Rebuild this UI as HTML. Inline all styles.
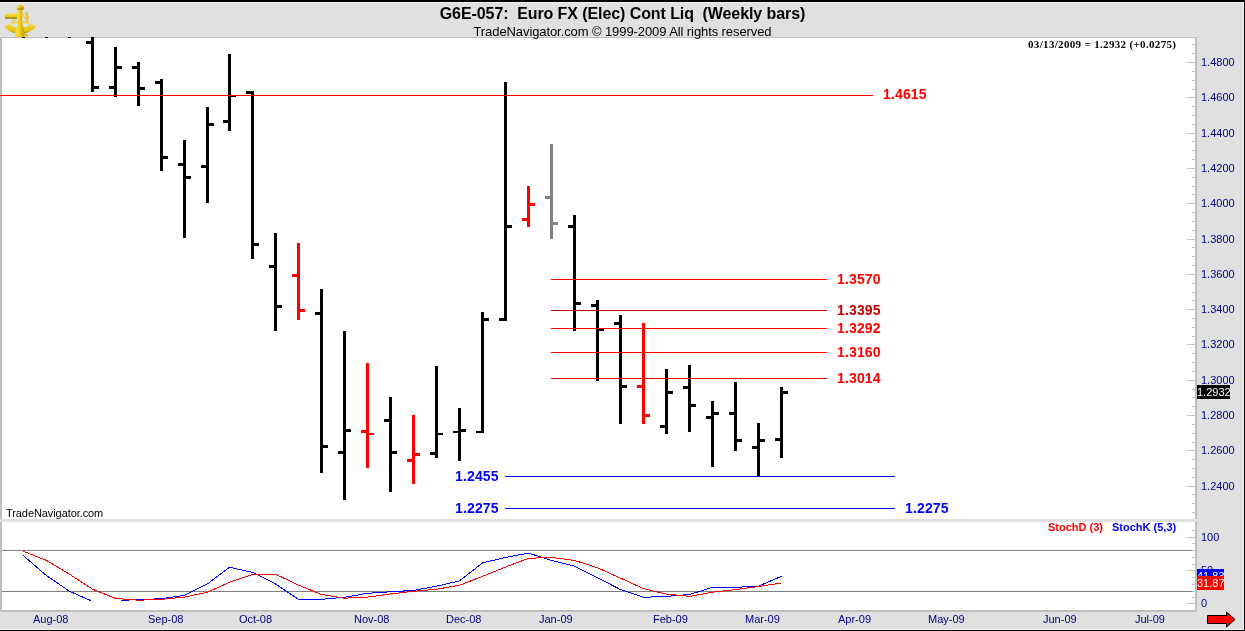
<!DOCTYPE html>
<html><head><meta charset="utf-8"><title>G6E-057 Euro FX Weekly</title>
<style>
html,body{margin:0;padding:0}
body{width:1245px;height:631px;overflow:hidden;background:#e0e0e0;font-family:"Liberation Sans",sans-serif;position:relative}
#w{position:absolute;left:0;top:0;width:1245px;height:631px;overflow:hidden;background:#e0e0e0}
i{position:absolute;display:block}
.pl{position:absolute;font-size:14px;line-height:16px;font-weight:bold;white-space:nowrap;letter-spacing:0.15px}
.al{position:absolute;font-size:11px;line-height:13px;color:#000080;white-space:nowrap}
.st{position:absolute;left:0;top:0}
.t1,.t2,.dt,.al,.pl,.bx{will-change:transform}
.t1{position:absolute;left:0;width:1245px;text-align:center;top:4px;font-size:16px;line-height:19px;letter-spacing:-0.085px;font-weight:bold;color:#000;white-space:pre}
.t2{position:absolute;left:0;width:1245px;text-align:center;top:24px;font-size:13px;line-height:15px;color:#000;white-space:pre;letter-spacing:-0.09px}
.dt{position:absolute;font-family:"Liberation Serif",serif;font-weight:bold;font-size:11px;letter-spacing:0.33px;line-height:13px;top:38px;left:1028px;color:#000;white-space:nowrap}
.bx{position:absolute;color:#fff;font-size:11px;line-height:14px;height:14px;white-space:nowrap;overflow:hidden}
</style></head><body><div id="w">
<!-- frame -->
<i style="left:0;top:0;width:1245px;height:2px;background:#000"></i>
<i style="left:0;top:2px;width:1243px;height:1px;background:#f0f0f0"></i>
<!-- chart areas -->
<i style="left:0;top:37px;width:1197px;height:575px;background:#bebebe"></i>
<i style="left:2px;top:38px;width:1193px;height:481px;background:#fff"></i>
<i style="left:0px;top:519px;width:1197px;height:3px;background:#e0e0e0"></i>
<i style="left:2px;top:522px;width:1193px;height:88px;background:#fff"></i>
<!-- stoch ref lines -->
<i style="left:2px;top:550px;width:1190px;height:1px;background:#808080"></i>
<i style="left:2px;top:591px;width:1190px;height:1px;background:#808080"></i>
<i style="left:1192px;top:44px;width:3px;height:1px;background:#c4c4c4"></i>
<i style="left:1192px;top:53px;width:3px;height:1px;background:#c4c4c4"></i>
<i style="left:1187px;top:62px;width:8px;height:1px;background:#c4c4c4"></i>
<span class="al" style="left:1201px;top:56px">1.4800</span>
<i style="left:1192px;top:71px;width:3px;height:1px;background:#c4c4c4"></i>
<i style="left:1192px;top:80px;width:3px;height:1px;background:#c4c4c4"></i>
<i style="left:1192px;top:89px;width:3px;height:1px;background:#c4c4c4"></i>
<i style="left:1187px;top:97px;width:8px;height:1px;background:#c4c4c4"></i>
<span class="al" style="left:1201px;top:91px">1.4600</span>
<i style="left:1192px;top:106px;width:3px;height:1px;background:#c4c4c4"></i>
<i style="left:1192px;top:115px;width:3px;height:1px;background:#c4c4c4"></i>
<i style="left:1192px;top:124px;width:3px;height:1px;background:#c4c4c4"></i>
<i style="left:1187px;top:133px;width:8px;height:1px;background:#c4c4c4"></i>
<span class="al" style="left:1201px;top:127px">1.4400</span>
<i style="left:1192px;top:141px;width:3px;height:1px;background:#c4c4c4"></i>
<i style="left:1192px;top:150px;width:3px;height:1px;background:#c4c4c4"></i>
<i style="left:1192px;top:159px;width:3px;height:1px;background:#c4c4c4"></i>
<i style="left:1187px;top:168px;width:8px;height:1px;background:#c4c4c4"></i>
<span class="al" style="left:1201px;top:162px">1.4200</span>
<i style="left:1192px;top:177px;width:3px;height:1px;background:#c4c4c4"></i>
<i style="left:1192px;top:186px;width:3px;height:1px;background:#c4c4c4"></i>
<i style="left:1192px;top:194px;width:3px;height:1px;background:#c4c4c4"></i>
<i style="left:1187px;top:203px;width:8px;height:1px;background:#c4c4c4"></i>
<span class="al" style="left:1201px;top:197px">1.4000</span>
<i style="left:1192px;top:212px;width:3px;height:1px;background:#c4c4c4"></i>
<i style="left:1192px;top:221px;width:3px;height:1px;background:#c4c4c4"></i>
<i style="left:1192px;top:230px;width:3px;height:1px;background:#c4c4c4"></i>
<i style="left:1187px;top:239px;width:8px;height:1px;background:#c4c4c4"></i>
<span class="al" style="left:1201px;top:233px">1.3800</span>
<i style="left:1192px;top:247px;width:3px;height:1px;background:#c4c4c4"></i>
<i style="left:1192px;top:256px;width:3px;height:1px;background:#c4c4c4"></i>
<i style="left:1192px;top:265px;width:3px;height:1px;background:#c4c4c4"></i>
<i style="left:1187px;top:274px;width:8px;height:1px;background:#c4c4c4"></i>
<span class="al" style="left:1201px;top:268px">1.3600</span>
<i style="left:1192px;top:283px;width:3px;height:1px;background:#c4c4c4"></i>
<i style="left:1192px;top:292px;width:3px;height:1px;background:#c4c4c4"></i>
<i style="left:1192px;top:300px;width:3px;height:1px;background:#c4c4c4"></i>
<i style="left:1187px;top:309px;width:8px;height:1px;background:#c4c4c4"></i>
<span class="al" style="left:1201px;top:303px">1.3400</span>
<i style="left:1192px;top:318px;width:3px;height:1px;background:#c4c4c4"></i>
<i style="left:1192px;top:327px;width:3px;height:1px;background:#c4c4c4"></i>
<i style="left:1192px;top:336px;width:3px;height:1px;background:#c4c4c4"></i>
<i style="left:1187px;top:344px;width:8px;height:1px;background:#c4c4c4"></i>
<span class="al" style="left:1201px;top:338px">1.3200</span>
<i style="left:1192px;top:353px;width:3px;height:1px;background:#c4c4c4"></i>
<i style="left:1192px;top:362px;width:3px;height:1px;background:#c4c4c4"></i>
<i style="left:1192px;top:371px;width:3px;height:1px;background:#c4c4c4"></i>
<i style="left:1187px;top:380px;width:8px;height:1px;background:#c4c4c4"></i>
<span class="al" style="left:1201px;top:374px">1.3000</span>
<i style="left:1192px;top:389px;width:3px;height:1px;background:#c4c4c4"></i>
<i style="left:1192px;top:397px;width:3px;height:1px;background:#c4c4c4"></i>
<i style="left:1192px;top:406px;width:3px;height:1px;background:#c4c4c4"></i>
<i style="left:1187px;top:415px;width:8px;height:1px;background:#c4c4c4"></i>
<span class="al" style="left:1201px;top:409px">1.2800</span>
<i style="left:1192px;top:424px;width:3px;height:1px;background:#c4c4c4"></i>
<i style="left:1192px;top:433px;width:3px;height:1px;background:#c4c4c4"></i>
<i style="left:1192px;top:442px;width:3px;height:1px;background:#c4c4c4"></i>
<i style="left:1187px;top:450px;width:8px;height:1px;background:#c4c4c4"></i>
<span class="al" style="left:1201px;top:444px">1.2600</span>
<i style="left:1192px;top:459px;width:3px;height:1px;background:#c4c4c4"></i>
<i style="left:1192px;top:468px;width:3px;height:1px;background:#c4c4c4"></i>
<i style="left:1192px;top:477px;width:3px;height:1px;background:#c4c4c4"></i>
<i style="left:1187px;top:486px;width:8px;height:1px;background:#c4c4c4"></i>
<span class="al" style="left:1201px;top:480px">1.2400</span>
<i style="left:1192px;top:494px;width:3px;height:1px;background:#c4c4c4"></i>
<i style="left:1192px;top:503px;width:3px;height:1px;background:#c4c4c4"></i>
<i style="left:1192px;top:512px;width:3px;height:1px;background:#c4c4c4"></i>
<i style="left:1187px;top:603px;width:8px;height:1px;background:#c4c4c4"></i>
<span class="al" style="left:1201px;top:597px">0</span>
<i style="left:1192px;top:597px;width:3px;height:1px;background:#c4c4c4"></i>
<i style="left:1192px;top:591px;width:3px;height:1px;background:#c4c4c4"></i>
<i style="left:1192px;top:584px;width:3px;height:1px;background:#c4c4c4"></i>
<i style="left:1192px;top:577px;width:3px;height:1px;background:#c4c4c4"></i>
<i style="left:1187px;top:570px;width:8px;height:1px;background:#c4c4c4"></i>
<span class="al" style="left:1201px;top:564px">50</span>
<i style="left:1192px;top:564px;width:3px;height:1px;background:#c4c4c4"></i>
<i style="left:1192px;top:557px;width:3px;height:1px;background:#c4c4c4"></i>
<i style="left:1192px;top:550px;width:3px;height:1px;background:#c4c4c4"></i>
<i style="left:1192px;top:543px;width:3px;height:1px;background:#c4c4c4"></i>
<i style="left:1187px;top:537px;width:8px;height:1px;background:#c4c4c4"></i>
<span class="al" style="left:1201px;top:531px">100</span>
<i style="left:1192px;top:530px;width:3px;height:1px;background:#c4c4c4"></i>
<i style="left:91px;top:37px;width:3px;height:55px;background:#000"></i>
<i style="left:86px;top:41px;width:5px;height:3px;background:#000"></i>
<i style="left:94px;top:86px;width:5px;height:3px;background:#000"></i>
<i style="left:114px;top:47px;width:3px;height:50px;background:#000"></i>
<i style="left:109px;top:86px;width:5px;height:3px;background:#000"></i>
<i style="left:117px;top:66px;width:5px;height:3px;background:#000"></i>
<i style="left:137px;top:62px;width:3px;height:44px;background:#000"></i>
<i style="left:132px;top:66px;width:5px;height:3px;background:#000"></i>
<i style="left:140px;top:87px;width:5px;height:3px;background:#000"></i>
<i style="left:160px;top:79px;width:3px;height:92px;background:#000"></i>
<i style="left:155px;top:81px;width:5px;height:3px;background:#000"></i>
<i style="left:163px;top:156px;width:5px;height:3px;background:#000"></i>
<i style="left:183px;top:140px;width:3px;height:98px;background:#000"></i>
<i style="left:178px;top:163px;width:5px;height:3px;background:#000"></i>
<i style="left:186px;top:176px;width:5px;height:3px;background:#000"></i>
<i style="left:206px;top:107px;width:3px;height:96px;background:#000"></i>
<i style="left:201px;top:165px;width:5px;height:3px;background:#000"></i>
<i style="left:209px;top:123px;width:5px;height:3px;background:#000"></i>
<i style="left:228px;top:54px;width:3px;height:77px;background:#000"></i>
<i style="left:223px;top:120px;width:5px;height:3px;background:#000"></i>
<i style="left:231px;top:95px;width:5px;height:2px;background:#000"></i>
<i style="left:251px;top:91px;width:3px;height:168px;background:#000"></i>
<i style="left:246px;top:91px;width:5px;height:3px;background:#000"></i>
<i style="left:254px;top:243px;width:5px;height:3px;background:#000"></i>
<i style="left:274px;top:233px;width:3px;height:98px;background:#000"></i>
<i style="left:269px;top:265px;width:5px;height:3px;background:#000"></i>
<i style="left:277px;top:305px;width:5px;height:3px;background:#000"></i>
<i style="left:297px;top:243px;width:3px;height:77px;background:#f00"></i>
<i style="left:292px;top:274px;width:5px;height:3px;background:#f00"></i>
<i style="left:300px;top:309px;width:5px;height:3px;background:#f00"></i>
<i style="left:320px;top:289px;width:3px;height:184px;background:#000"></i>
<i style="left:315px;top:312px;width:5px;height:3px;background:#000"></i>
<i style="left:323px;top:445px;width:5px;height:3px;background:#000"></i>
<i style="left:343px;top:331px;width:3px;height:169px;background:#000"></i>
<i style="left:338px;top:451px;width:5px;height:3px;background:#000"></i>
<i style="left:346px;top:429px;width:5px;height:3px;background:#000"></i>
<i style="left:366px;top:363px;width:3px;height:105px;background:#f00"></i>
<i style="left:361px;top:430px;width:5px;height:3px;background:#f00"></i>
<i style="left:369px;top:433px;width:5px;height:2px;background:#f00"></i>
<i style="left:389px;top:397px;width:3px;height:95px;background:#000"></i>
<i style="left:384px;top:419px;width:5px;height:3px;background:#000"></i>
<i style="left:392px;top:451px;width:5px;height:3px;background:#000"></i>
<i style="left:412px;top:415px;width:3px;height:69px;background:#f00"></i>
<i style="left:407px;top:459px;width:5px;height:3px;background:#f00"></i>
<i style="left:415px;top:453px;width:5px;height:3px;background:#f00"></i>
<i style="left:435px;top:366px;width:3px;height:92px;background:#000"></i>
<i style="left:430px;top:452px;width:5px;height:3px;background:#000"></i>
<i style="left:438px;top:433px;width:5px;height:2px;background:#000"></i>
<i style="left:458px;top:408px;width:3px;height:53px;background:#000"></i>
<i style="left:453px;top:431px;width:5px;height:2px;background:#000"></i>
<i style="left:461px;top:429px;width:5px;height:3px;background:#000"></i>
<i style="left:481px;top:312px;width:3px;height:121px;background:#000"></i>
<i style="left:476px;top:431px;width:5px;height:2px;background:#000"></i>
<i style="left:484px;top:318px;width:5px;height:3px;background:#000"></i>
<i style="left:504px;top:82px;width:3px;height:239px;background:#000"></i>
<i style="left:499px;top:318px;width:5px;height:3px;background:#000"></i>
<i style="left:507px;top:225px;width:5px;height:3px;background:#000"></i>
<i style="left:527px;top:186px;width:3px;height:41px;background:#f00"></i>
<i style="left:522px;top:218px;width:5px;height:3px;background:#f00"></i>
<i style="left:530px;top:203px;width:5px;height:3px;background:#f00"></i>
<i style="left:550px;top:144px;width:3px;height:95px;background:#808080"></i>
<i style="left:545px;top:196px;width:5px;height:3px;background:#808080"></i>
<i style="left:553px;top:222px;width:5px;height:3px;background:#808080"></i>
<i style="left:573px;top:215px;width:3px;height:116px;background:#000"></i>
<i style="left:568px;top:225px;width:5px;height:3px;background:#000"></i>
<i style="left:576px;top:302px;width:5px;height:3px;background:#000"></i>
<i style="left:596px;top:300px;width:3px;height:81px;background:#000"></i>
<i style="left:591px;top:304px;width:5px;height:3px;background:#000"></i>
<i style="left:599px;top:328px;width:5px;height:3px;background:#000"></i>
<i style="left:619px;top:315px;width:3px;height:109px;background:#000"></i>
<i style="left:614px;top:322px;width:5px;height:3px;background:#000"></i>
<i style="left:622px;top:385px;width:5px;height:3px;background:#000"></i>
<i style="left:642px;top:323px;width:3px;height:101px;background:#f00"></i>
<i style="left:637px;top:385px;width:5px;height:3px;background:#f00"></i>
<i style="left:645px;top:414px;width:5px;height:3px;background:#f00"></i>
<i style="left:665px;top:369px;width:3px;height:65px;background:#000"></i>
<i style="left:660px;top:425px;width:5px;height:3px;background:#000"></i>
<i style="left:668px;top:391px;width:5px;height:3px;background:#000"></i>
<i style="left:688px;top:365px;width:3px;height:67px;background:#000"></i>
<i style="left:683px;top:386px;width:5px;height:3px;background:#000"></i>
<i style="left:691px;top:404px;width:5px;height:3px;background:#000"></i>
<i style="left:711px;top:401px;width:3px;height:66px;background:#000"></i>
<i style="left:706px;top:416px;width:5px;height:3px;background:#000"></i>
<i style="left:714px;top:412px;width:5px;height:3px;background:#000"></i>
<i style="left:734px;top:382px;width:3px;height:69px;background:#000"></i>
<i style="left:729px;top:412px;width:5px;height:3px;background:#000"></i>
<i style="left:737px;top:439px;width:5px;height:3px;background:#000"></i>
<i style="left:757px;top:423px;width:3px;height:53px;background:#000"></i>
<i style="left:752px;top:446px;width:5px;height:3px;background:#000"></i>
<i style="left:760px;top:439px;width:5px;height:3px;background:#000"></i>
<i style="left:780px;top:387px;width:3px;height:71px;background:#000"></i>
<i style="left:775px;top:438px;width:5px;height:3px;background:#000"></i>
<i style="left:783px;top:391px;width:5px;height:3px;background:#000"></i>
<i style="left:22px;top:37px;width:3px;height:1px;background:#000"></i>
<i style="left:45px;top:37px;width:3px;height:1px;background:#000"></i>
<i style="left:68px;top:37px;width:3px;height:1px;background:#000"></i>
<i style="left:0px;top:95px;width:873px;height:1px;background:#f00"></i>
<i style="left:551px;top:279px;width:276px;height:1px;background:#f00"></i>
<i style="left:551px;top:310px;width:276px;height:1px;background:#c00000"></i>
<i style="left:551px;top:328px;width:276px;height:1px;background:#f00"></i>
<i style="left:551px;top:352px;width:276px;height:1px;background:#f00"></i>
<i style="left:551px;top:378px;width:276px;height:1px;background:#f00"></i>
<i style="left:505px;top:476px;width:390px;height:1px;background:#00f"></i>
<i style="left:505px;top:508px;width:390px;height:1px;background:#00f"></i>
<b class="pl" style="left:883px;top:85.5px;color:#f00">1.4615</b>
<b class="pl" style="left:837px;top:271px;color:#f00">1.3570</b>
<b class="pl" style="left:837px;top:302px;color:#c00000">1.3395</b>
<b class="pl" style="left:837px;top:320px;color:#f00">1.3292</b>
<b class="pl" style="left:837px;top:344px;color:#f00">1.3160</b>
<b class="pl" style="left:837px;top:370px;color:#f00">1.3014</b>
<b class="pl" style="left:455px;top:468px;color:#00f">1.2455</b>
<b class="pl" style="left:455px;top:500px;color:#00f">1.2275</b>
<b class="pl" style="left:905px;top:500px;color:#00f">1.2275</b>
<svg class="st" width="1245" height="631" viewBox="0 0 1245 631" shape-rendering="crispEdges">
<polyline points="23,555.3 46.5,575.6 69.5,591.3 91,600.7" fill="none" stroke="#00f" stroke-width="1"/>
<polyline points="121,600.2 138.5,599.8 161.5,598.6 184.5,595.4 207.5,583.9 229.5,567.3 252.5,572.4 275.5,583.9 298.5,599.3 321.5,599.3 344.5,597.3 367.5,593.3 390.5,591.8 413.5,590.4 436.5,586.2 459.5,580.9 482.5,562.9 505.5,557.4 528.5,553.1 551.5,560.4 574.5,566.2 597.5,577.7 620.5,589.6 643.5,597.3 666.5,596.4 689.5,594.5 712.5,587.3 735.5,587.3 758.5,586.2 781.5,576.3" fill="none" stroke="#00f" stroke-width="1"/>
<polyline points="23,551.2 46.5,560.4 69.5,574.2 92.5,589.2 115.5,598.4 138.5,600.2 161.5,599.4 184.5,597.1 207.5,592.2 229.5,582.3 252.5,574.5 275.5,574.2 298.5,585.1 321.5,594.5 344.5,598.2 367.5,597.1 390.5,594 413.5,591.3 436.5,589.2 459.5,585.3 482.5,576.3 505.5,567.1 528.5,558.3 551.5,557.4 574.5,560.4 597.5,567.8 620.5,578.1 643.5,588.7 666.5,594.1 689.5,596.4 712.5,592.2 735.5,589.6 758.5,586.5 781.5,583.0" fill="none" stroke="#f00" stroke-width="1"/>
</svg>
<div class="t1">G6E-057:  Euro FX (Elec) Cont Liq  (Weekly bars)</div>
<div class="t2">TradeNavigator.com © 1999-2009 All rights reserved</div>
<div class="dt">03/13/2009 = 1.2932 (+0.0275)</div>
<span class="al" style="left:6px;top:507px;color:#000;letter-spacing:-0.08px">TradeNavigator.com</span>
<b class="al" style="left:1048px;top:521px;color:#f00">StochD (3)</b>
<b class="al" style="left:1112px;top:521px;color:#00f">StochK (5,3)</b>
<span class="al" style="left:33px;top:613px">Aug-08</span>
<span class="al" style="left:148px;top:613px">Sep-08</span>
<span class="al" style="left:239px;top:613px">Oct-08</span>
<span class="al" style="left:354px;top:613px">Nov-08</span>
<span class="al" style="left:446px;top:613px">Dec-08</span>
<span class="al" style="left:539px;top:613px">Jan-09</span>
<span class="al" style="left:653px;top:613px">Feb-09</span>
<span class="al" style="left:745px;top:613px">Mar-09</span>
<span class="al" style="left:838px;top:613px">Apr-09</span>
<span class="al" style="left:928px;top:613px">May-09</span>
<span class="al" style="left:1043px;top:613px">Jun-09</span>
<span class="al" style="left:1135px;top:613px">Jul-09</span>
<!-- price boxes -->
<div class="bx" style="left:1197px;top:385px;width:33px;background:#000">1.2932</div>
<div class="bx" style="left:1197px;top:569px;width:27px;background:#00f">41.83</div>
<div class="bx" style="left:1197px;top:576px;width:27px;background:#f00">31.87</div>
<!-- arrow -->
<svg class="st" width="1245" height="631" viewBox="0 0 1245 631">
<polygon points="1207.5,615.5 1226.5,615.5 1226.5,612 1235,619.5 1226.5,627 1226.5,623.5 1207.5,623.5" fill="#f00" stroke="#000" stroke-width="1"/>
</svg>
<!-- logo -->
<svg class="st" style="left:0px;top:0px" width="42" height="40" viewBox="0 0 42 40">
<defs>
<linearGradient id="g1" x1="0" y1="0" x2="1" y2="0"><stop offset="0" stop-color="#f8e24a"/><stop offset="0.45" stop-color="#f2d21c"/><stop offset="1" stop-color="#c09a08"/></linearGradient>
<linearGradient id="g2" x1="0" y1="0" x2="0" y2="1"><stop offset="0" stop-color="#f6e040"/><stop offset="0.6" stop-color="#e8c410"/><stop offset="1" stop-color="#7a6400"/></linearGradient>
<linearGradient id="g3" x1="0" y1="0" x2="0" y2="1"><stop offset="0" stop-color="#f4dc38"/><stop offset="0.7" stop-color="#e2be10"/><stop offset="1" stop-color="#8a7000"/></linearGradient>
</defs>
<path d="M12,24 L17.5,13.5 M22.5,13.5 L29.5,25 M11,22.5 L29,22.5" stroke="#ecd23a" stroke-width="1.4" fill="none"/>
<path d="M4.4,27.2 L8.6,23.8 Q20,32.5 32,23.8 L36.2,27.2 Q20,41 4.4,27.2 Z" fill="url(#g3)"/>
<rect x="5" y="13.6" width="12" height="5.1" fill="url(#g2)"/>
<path d="M25,12.5 L27.5,12 L28.8,17 L27.6,21.5 L25.6,22 L26.6,17 Z" fill="#e6c520"/>
<path d="M16.3,8.2 L17.6,6 L20.2,4.6 L23,6 L24.4,8.2 L22.4,10 L22.2,24 L24,30 L24.2,37 L15,37 L15.4,30 L17.8,24 L17.8,10 Z" fill="url(#g1)"/>
<path d="M16.3,8.2 L24.4,8.2 L22.4,10 L17.8,10 Z" fill="#8a6e00" opacity="0.55"/>
<rect x="24" y="34" width="4.2" height="2.6" fill="#e6c520"/>
</svg>
<!-- right/bottom borders -->
<i style="left:1243px;top:2px;width:1px;height:628px;background:#f4f4f4"></i>
<i style="left:0;top:629px;width:1244px;height:1px;background:#f4f4f4"></i>
<i style="left:1244px;top:0;width:1px;height:631px;background:#000"></i>
<i style="left:0;top:630px;width:1245px;height:1px;background:#000"></i>
</div></body></html>
